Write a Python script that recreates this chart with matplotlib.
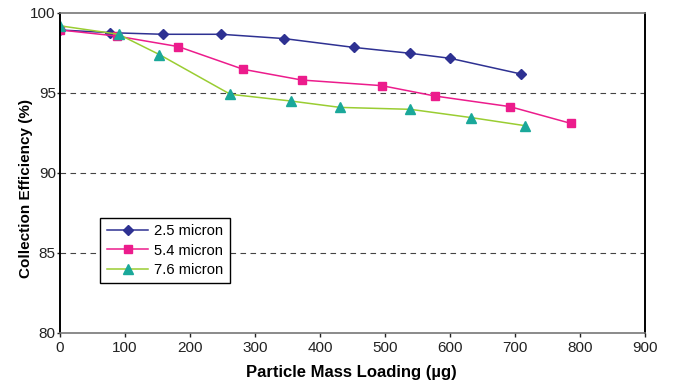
import matplotlib.pyplot as plt

plt.rcParams['font.family'] = ['Liberation Sans', 'DejaVu Sans']

# collection efficiency vs. particle mass loading
load_25 = [0, 77, 158, 248, 345, 452, 539, 600, 709]
eff_25 = [98.94, 98.77, 98.67, 98.67, 98.4, 97.85, 97.48, 97.17, 96.19]

load_54 = [0, 87, 182, 282, 372, 495, 577, 692, 786]
eff_54 = [98.94, 98.56, 97.9, 96.48, 95.81, 95.46, 94.81, 94.15, 93.1]

load_76 = [0, 90, 153, 262, 355, 431, 539, 633, 715]
eff_76 = [99.2, 98.67, 97.4, 94.92, 94.5, 94.1, 93.98, 93.46, 92.96]

fig = plt.figure(figsize=(6.73, 3.83), dpi=100)
ax = fig.add_axes([60 / 673, 1 - 333 / 383, 585 / 673, 320 / 383])

ax.plot(load_25, eff_25, color='#2E3192', marker='D', markersize=5.5,
        linewidth=1.1, label='2.5 micron')
ax.plot(load_54, eff_54, color='#EC1C8C', marker='s', markersize=6,
        linewidth=1.1, label='5.4 micron')
ax.plot(load_76, eff_76, color='#9ACD32', marker='^', markersize=7,
        markerfacecolor='#1AA89A', markeredgecolor='#1AA89A',
        linewidth=1.1, label='7.6 micron')

ax.set_xlim(0, 900)
ax.set_ylim(80, 100)
ax.set_xticks(range(0, 901, 100))
ax.set_yticks(range(80, 101, 5))
for y in (85, 90, 95):
    ax.axhline(y, color='#444444', linestyle=(0, (5, 4)), linewidth=0.8, zorder=0)

ax.tick_params(labelsize=11, length=3, width=1, colors='#222222')
ax.tick_params(axis='x', pad=3)
ax.tick_params(axis='y', length=2.5, pad=0.5)
ax.spines['left'].set_color('black')
ax.spines['left'].set_linewidth(1.4)
ax.spines['right'].set_color('black')
ax.spines['right'].set_linewidth(1.4)
ax.spines['top'].set_color('#777777')
ax.spines['top'].set_linewidth(1.2)
ax.spines['bottom'].set_color('#777777')
ax.spines['bottom'].set_linewidth(1.2)

ax.set_xlabel('Particle Mass Loading (\u00b5g)', fontsize=12, fontweight='bold')
ax.set_ylabel('Collection Efficiency (%)', fontsize=11, fontweight='bold')
ax.xaxis.set_label_coords(0.498, -0.1)
ax.yaxis.set_label_coords(-0.046, 0.45)

leg = ax.legend(loc='lower left', bbox_to_anchor=(0.069, 0.155), fontsize=10.6,
                frameon=True, fancybox=False, framealpha=1, edgecolor='black',
                handlelength=2.8, borderpad=0.45, labelspacing=0.35, handletextpad=0.4,
                borderaxespad=0)
leg.get_frame().set_linewidth(1.0)

fig.savefig('out.png', dpi=100)
